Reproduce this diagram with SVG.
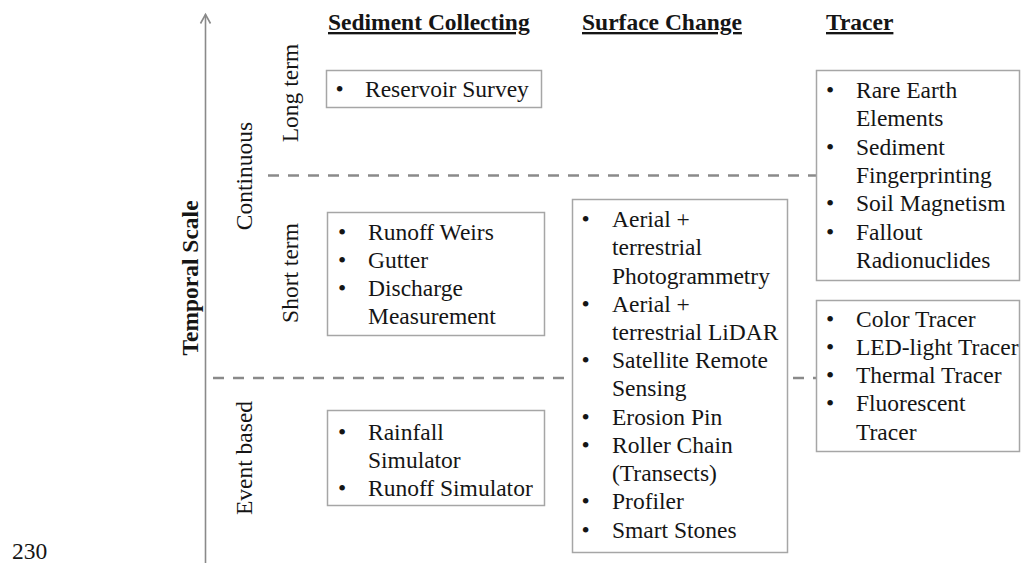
<svg xmlns="http://www.w3.org/2000/svg" width="1021" height="566" viewBox="0 0 1021 566">
<style>
text{font-family:"Liberation Serif","Times New Roman",serif;font-size:23.5px;fill:#151515}
.hd{font-weight:bold;text-decoration:underline}
.ax{font-weight:bold}
.box{fill:#fff;stroke:#a6a6a6;stroke-width:1.5}
.dash{stroke:#8a8a8a;stroke-width:2.5;stroke-dasharray:11 9;fill:none}
.axis{stroke:#8a8a8a;stroke-width:1.6;fill:none}
</style>
<rect width="1021" height="566" fill="#fff"/>
<g id="connectors">
<line class="axis" x1="205.5" y1="563" x2="205.5" y2="14.5"/>
<polyline class="axis" points="200.5,23.5 205.5,14.5 210.5,23.5"/>
<line class="dash" x1="268" y1="175.5" x2="816" y2="175.5"/>
<line class="dash" x1="213" y1="378" x2="816" y2="378"/>
</g>
<g id="axis-labels">
<text class="ax" text-anchor="middle" transform="translate(197.5,278) rotate(-90)">Temporal Scale</text>
<text text-anchor="middle" transform="translate(251.5,176) rotate(-90)">Continuous</text>
<text text-anchor="middle" transform="translate(297.5,93) rotate(-90)">Long term</text>
<text text-anchor="middle" transform="translate(297.5,273) rotate(-90)">Short term</text>
<text text-anchor="middle" transform="translate(251.5,458) rotate(-90)">Event based</text>
<text x="12" y="559" font-size="20">230</text>
</g>
<g id="headers">
<text class="hd" x="328" y="30">Sediment Collecting</text>
<text class="hd" x="582" y="30">Surface Change</text>
<text class="hd" x="826" y="30">Tracer</text>
</g>
<g id="reservoir">
<rect class="box" x="326.5" y="70.5" width="215" height="37"/>
<text x="335.5" y="97">•</text>
<text x="365" y="97">Reservoir Survey</text>
</g>
<g id="runoff-weirs">
<rect class="box" x="327.5" y="212.5" width="217" height="123"/>
<text x="338" y="240">•</text><text x="368" y="240">Runoff Weirs</text>
<text x="338" y="268">•</text><text x="368" y="268">Gutter</text>
<text x="338" y="296">•</text><text x="368" y="296">Discharge</text>
<text x="368" y="324">Measurement</text>
</g>
<g id="rainfall">
<rect class="box" x="327.5" y="410.5" width="217" height="95"/>
<text x="338" y="440">•</text><text x="368" y="440">Rainfall</text>
<text x="368" y="468">Simulator</text>
<text x="338" y="496">•</text><text x="368" y="496">Runoff Simulator</text>
</g>
<g id="surface-change">
<rect class="box" x="572.5" y="199.5" width="215" height="353"/>
<text x="581.5" y="227">•</text><text x="612" y="227">Aerial +</text>
<text x="612" y="255">terrestrial</text>
<text x="612" y="283.5">Photogrammetry</text>
<text x="581.5" y="311.5">•</text><text x="612" y="311.5">Aerial +</text>
<text x="612" y="340">terrestrial LiDAR</text>
<text x="581.5" y="368">•</text><text x="612" y="368">Satellite Remote</text>
<text x="612" y="396">Sensing</text>
<text x="581.5" y="424.5">•</text><text x="612" y="424.5">Erosion Pin</text>
<text x="581.5" y="453">•</text><text x="612" y="453">Roller Chain</text>
<text x="612" y="481">(Transects)</text>
<text x="581.5" y="509">•</text><text x="612" y="509">Profiler</text>
<text x="581.5" y="537.5">•</text><text x="612" y="537.5">Smart Stones</text>
</g>
<g id="tracer-long">
<rect class="box" x="816.5" y="70.5" width="203" height="210"/>
<text x="826" y="98">•</text><text x="856" y="98">Rare Earth</text>
<text x="856" y="126">Elements</text>
<text x="826" y="155">•</text><text x="856" y="155">Sediment</text>
<text x="856" y="183">Fingerprinting</text>
<text x="826" y="211">•</text><text x="856" y="211">Soil Magnetism</text>
<text x="826" y="239.5">•</text><text x="856" y="239.5">Fallout</text>
<text x="856" y="267.5">Radionuclides</text>
</g>
<g id="tracer-short">
<rect class="box" x="816.5" y="300.5" width="203" height="151"/>
<text x="826" y="327">•</text><text x="856" y="327">Color Tracer</text>
<text x="826" y="355">•</text><text x="856" y="355">LED-light Tracer</text>
<text x="826" y="383">•</text><text x="856" y="383">Thermal Tracer</text>
<text x="826" y="411">•</text><text x="856" y="411">Fluorescent</text>
<text x="856" y="439.5">Tracer</text>
</g>
</svg>
